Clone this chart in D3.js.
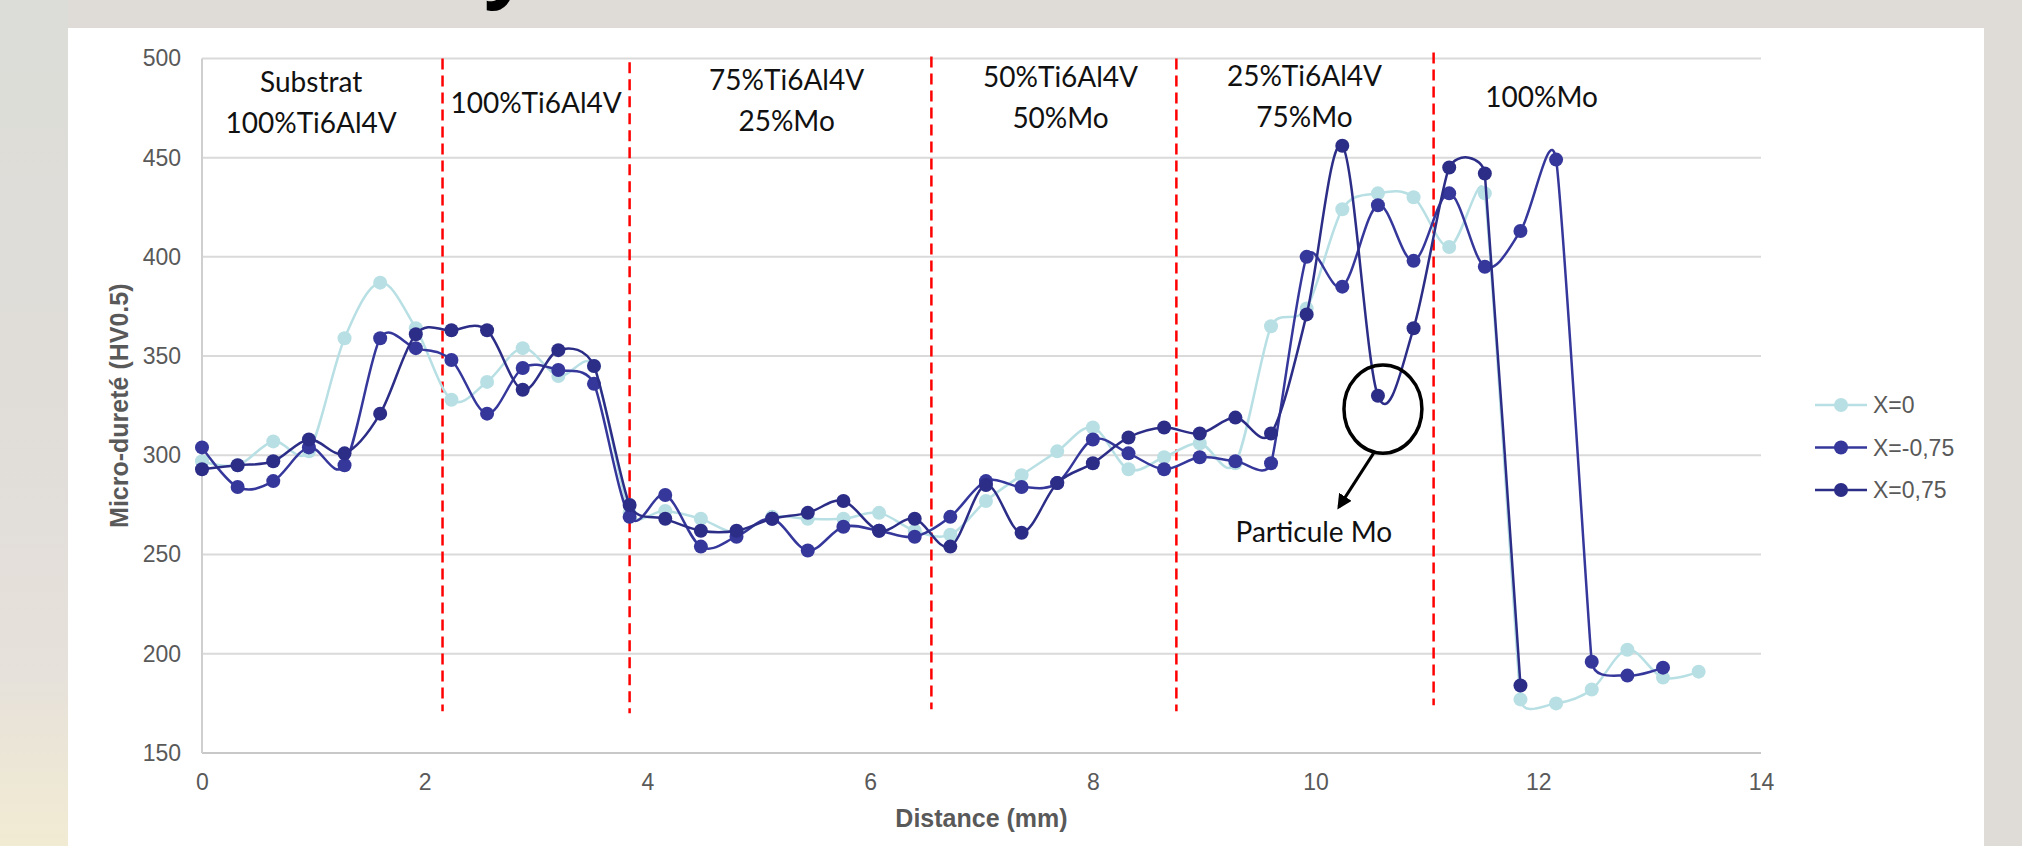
<!DOCTYPE html>
<html>
<head>
<meta charset="utf-8">
<script src="https://cdn.jsdelivr.net/npm/d3@7"></script>
<style>
  body { margin: 0; background: #dfdcd8; overflow: hidden; }
  svg { display: block; }
</style>
</head>
<body>
<svg width="2022" height="846"></svg>
<script>
// distance of each indent (mm)
const distance = [0, 0.32, 0.64, 0.96, 1.28, 1.6, 1.92, 2.24, 2.56, 2.88, 3.2, 3.52, 3.84, 4.16, 4.48,
  4.8, 5.12, 5.44, 5.76, 6.08, 6.4, 6.72, 7.04, 7.36, 7.68, 8.0, 8.32, 8.64, 8.96, 9.28, 9.6, 9.92,
  10.24, 10.56, 10.88, 11.2, 11.52, 11.84, 12.16, 12.48, 12.8, 13.12, 13.44];

// micro-hardness HV0.5
const hvX0 = [297, 295, 307, 302, 359, 387, 364, 328, 337, 354, 340, 345, 271, 272, 268,
  261, 269, 268, 268, 271, 262, 260, 277, 290, 302, 314, 293, 299, 306, 296, 365, 374,
  424, 432, 430, 405, 432, 177, 175, 182, 202, 188, 191];
const hvXm075 = [304, 284, 287, 304, 295, 359, 354, 348, 321, 344, 343, 336, 269, 280, 254,
  259, 268, 252, 264, 262, 259, 269, 287, 284, 286, 308, 301, 293, 299, 297, 296, 400,
  385, 426, 398, 432, 395, 413, 449, 196, 189, 193];
const hvXp075 = [293, 295, 297, 308, 301, 321, 361, 363, 363, 333, 353, 345, 275, 268, 262,
  262, 268, 271, 277, 262, 268, 254, 285, 261, 286, 296, 309, 314, 311, 319, 311, 371,
  456, 330, 364, 445, 442, 184];

const seriesNames = ['X=0', 'X=-0,75', 'X=0,75'];
const seriesValues = [hvX0, hvXm075, hvXp075];
const seriesColors = ['#b8e0e4', '#35379b', '#2c2d87'];

const xTicks = [0, 2, 4, 6, 8, 10, 12, 14];
const yTicks = [150, 200, 250, 300, 350, 400, 450, 500];

// zone separators (mm) and their vertical extent (HV)
const zoneBounds = [2.16, 3.84, 6.55, 8.75, 11.06];
const zoneBottom = [171, 170, 172, 171, 174];
const zoneTop = [500, 498, 501, 500, 503];

const zoneLabels = [
  ['Substrat', '100%Ti6Al4V'],
  ['100%Ti6Al4V'],
  ['75%Ti6Al4V', '25%Mo'],
  ['50%Ti6Al4V', '50%Mo'],
  ['25%Ti6Al4V', '75%Mo'],
  ['100%Mo']
];
// label centre (mm) and first baseline (px)
const zoneLabelPos = [[0.98, 92], [3.0, 113], [5.25, 90], [7.71, 87], [9.9, 86], [12.03, 107]];

const width = 2022;
const height = 846;
const plot = { left: 202, right: 1761, top: 58.4, bottom: 753 };

const x = d3.scaleLinear().domain([0, 14]).range([plot.left, plot.right]);
const y = d3.scaleLinear().domain([150, 500]).range([plot.bottom, plot.top]);

const svg = d3.select('svg');

// backdrop around the chart panel
const defs = svg.append('defs');
const grad = defs.append('linearGradient')
    .attr('id', 'side')
    .attr('x1', 0).attr('y1', 0).attr('x2', 0).attr('y2', 1);
grad.append('stop').attr('offset', '0%').attr('stop-color', '#dcddd8');
grad.append('stop').attr('offset', '55%').attr('stop-color', '#e1ddd9');
grad.append('stop').attr('offset', '80%').attr('stop-color', '#e6e1da');
grad.append('stop').attr('offset', '100%').attr('stop-color', '#f2ebd3');

defs.append('marker')
    .attr('id', 'arrow')
    .attr('viewBox', '0 0 10 10')
    .attr('refX', 8).attr('refY', 5)
    .attr('markerWidth', 5).attr('markerHeight', 5)
    .attr('orient', 'auto')
  .append('path')
    .attr('d', 'M0,0L10,5L0,10z')
    .attr('fill', '#000');

svg.append('rect')
    .attr('width', width).attr('height', height)
    .attr('fill', '#dfdcd8');
svg.append('rect')
    .attr('x', 0).attr('y', 0).attr('width', 68).attr('height', height)
    .attr('fill', 'url(#side)');

// fragment of the slide title above the panel
svg.append('text')
    .attr('x', 484).attr('y', -8)
    .attr('font-family', 'Open Sans, sans-serif')
    .attr('font-weight', 700)
    .attr('font-size', 80)
    .attr('fill', '#000')
    .text('y');

svg.append('rect')
    .attr('x', 68).attr('y', 28).attr('width', 1916).attr('height', height - 28)
    .attr('fill', '#fff');

// grid
svg.append('g')
  .selectAll('line')
  .data(yTicks)
  .join('line')
    .attr('x1', plot.left).attr('x2', plot.right)
    .attr('y1', d => y(d)).attr('y2', d => y(d))
    .attr('stroke', d => d === 150 ? '#c8c8c8' : '#dadada')
    .attr('stroke-width', 2);

svg.append('line')
    .attr('x1', plot.left).attr('x2', plot.left)
    .attr('y1', plot.top).attr('y2', plot.bottom)
    .attr('stroke', '#cfcfcf')
    .attr('stroke-width', 2);

// axes
const yAxis = svg.append('g')
    .attr('transform', `translate(${plot.left},0)`)
    .call(d3.axisLeft(y).tickValues(yTicks).tickSize(0).tickPadding(21));
const xAxis = svg.append('g')
    .attr('transform', `translate(0,${plot.bottom})`)
    .call(d3.axisBottom(x).tickValues(xTicks).tickSize(0).tickPadding(21));

[yAxis, xAxis].forEach(g => {
  g.select('.domain').remove();
  g.selectAll('text')
    .attr('font-family', 'Liberation Sans, Arial, sans-serif')
    .attr('font-size', 23)
    .attr('fill', '#595959');
});

svg.append('text')
    .attr('x', (plot.left + plot.right) / 2)
    .attr('y', 827)
    .attr('text-anchor', 'middle')
    .attr('font-family', 'Liberation Sans, Arial, sans-serif')
    .attr('font-weight', 700)
    .attr('font-size', 25)
    .attr('fill', '#595959')
    .text('Distance (mm)');

svg.append('text')
    .attr('transform', `translate(128,${(plot.top + plot.bottom) / 2}) rotate(-90)`)
    .attr('text-anchor', 'middle')
    .attr('font-family', 'Liberation Sans, Arial, sans-serif')
    .attr('font-weight', 700)
    .attr('font-size', 25)
    .attr('fill', '#595959')
    .text('Micro-dureté (HV0.5)');

// zone separators
svg.append('g')
  .selectAll('line')
  .data(zoneBounds)
  .join('line')
    .attr('x1', d => x(d)).attr('x2', d => x(d))
    .attr('y1', (d, i) => y(zoneTop[i]))
    .attr('y2', (d, i) => y(zoneBottom[i]))
    .attr('stroke', '#ff0000')
    .attr('stroke-width', 2.5)
    .attr('stroke-dasharray', '11,6');

// zone labels
const labels = svg.append('g')
    .attr('font-family', 'Lato, sans-serif')
    .attr('font-size', 28)
    .attr('fill', '#111')
    .attr('text-anchor', 'middle');
zoneLabels.forEach((lines, i) => {
  const t = labels.append('text')
      .attr('x', x(zoneLabelPos[i][0]))
      .attr('y', zoneLabelPos[i][1]);
  lines.forEach((s, j) => {
    t.append('tspan')
        .attr('x', x(zoneLabelPos[i][0]))
        .attr('dy', j === 0 ? 0 : 41)
        .text(s);
  });
});

// spreadsheet-style smoothing: bezier handles of length min(d02/6, d01/2, d12/2)
function smoothPath(pts) {
  const dist = (a, b) => Math.hypot(b[0] - a[0], b[1] - a[1]);
  const handle = (p0, p1, p2) => {
    const d02 = dist(p0, p2);
    if (d02 === 0) return [0, 0];
    const len = Math.min(d02 / 6, dist(p0, p1) / 2, dist(p1, p2) / 2);
    return [(p2[0] - p0[0]) / d02 * len, (p2[1] - p0[1]) / d02 * len];
  };
  const p = d3.path();
  p.moveTo(pts[0][0], pts[0][1]);
  for (let i = 0; i < pts.length - 1; i++) {
    const p0 = pts[i - 1] || pts[i];
    const p1 = pts[i];
    const p2 = pts[i + 1];
    const p3 = pts[i + 2] || pts[i + 1];
    const h1 = handle(p0, p1, p2);
    const h2 = handle(p1, p2, p3);
    p.bezierCurveTo(p1[0] + h1[0], p1[1] + h1[1], p2[0] - h2[0], p2[1] - h2[1], p2[0], p2[1]);
  }
  return p.toString();
}

seriesValues.forEach((vals, i) => {
  const pts = vals.map((v, k) => [distance[k], v]);
  const g = svg.append('g');
  g.append('path')
      .attr('d', smoothPath(pts.map(d => [x(d[0]), y(d[1])])))
      .attr('fill', 'none')
      .attr('stroke', seriesColors[i])
      .attr('stroke-width', 2.5);
  g.selectAll('circle')
    .data(pts)
    .join('circle')
      .attr('cx', d => x(d[0]))
      .attr('cy', d => y(d[1]))
      .attr('r', 7)
      .attr('fill', seriesColors[i]);
});

// Mo particle callout
svg.append('ellipse')
    .attr('cx', x(10.605)).attr('cy', y(323.3))
    .attr('rx', x(10.955) - x(10.605))
    .attr('ry', y(301.1) - y(323.3))
    .attr('fill', 'none')
    .attr('stroke', '#000')
    .attr('stroke-width', 3.5);

svg.append('line')
    .attr('x1', x(10.52)).attr('y1', y(301))
    .attr('x2', x(10.21)).attr('y2', y(274))
    .attr('stroke', '#000')
    .attr('stroke-width', 3)
    .attr('marker-end', 'url(#arrow)');

svg.append('text')
    .attr('x', x(9.985)).attr('y', 542)
    .attr('text-anchor', 'middle')
    .attr('font-family', 'Lato, sans-serif')
    .attr('font-size', 28)
    .attr('fill', '#111')
    .text('Particule Mo');

// legend
const legend = svg.append('g')
    .attr('transform', 'translate(1815,405)');
seriesNames.forEach((name, i) => {
  const row = legend.append('g').attr('transform', `translate(0,${i * 42.5})`);
  row.append('line')
      .attr('x1', 0).attr('x2', 52)
      .attr('stroke', seriesColors[i])
      .attr('stroke-width', 2.5);
  row.append('circle')
      .attr('cx', 26).attr('r', 7)
      .attr('fill', seriesColors[i]);
  row.append('text')
      .attr('x', 58).attr('dy', '0.35em')
      .attr('font-family', 'Liberation Sans, Arial, sans-serif')
      .attr('font-size', 23)
      .attr('fill', '#595959')
      .text(name);
});
</script>
</body>
</html>
